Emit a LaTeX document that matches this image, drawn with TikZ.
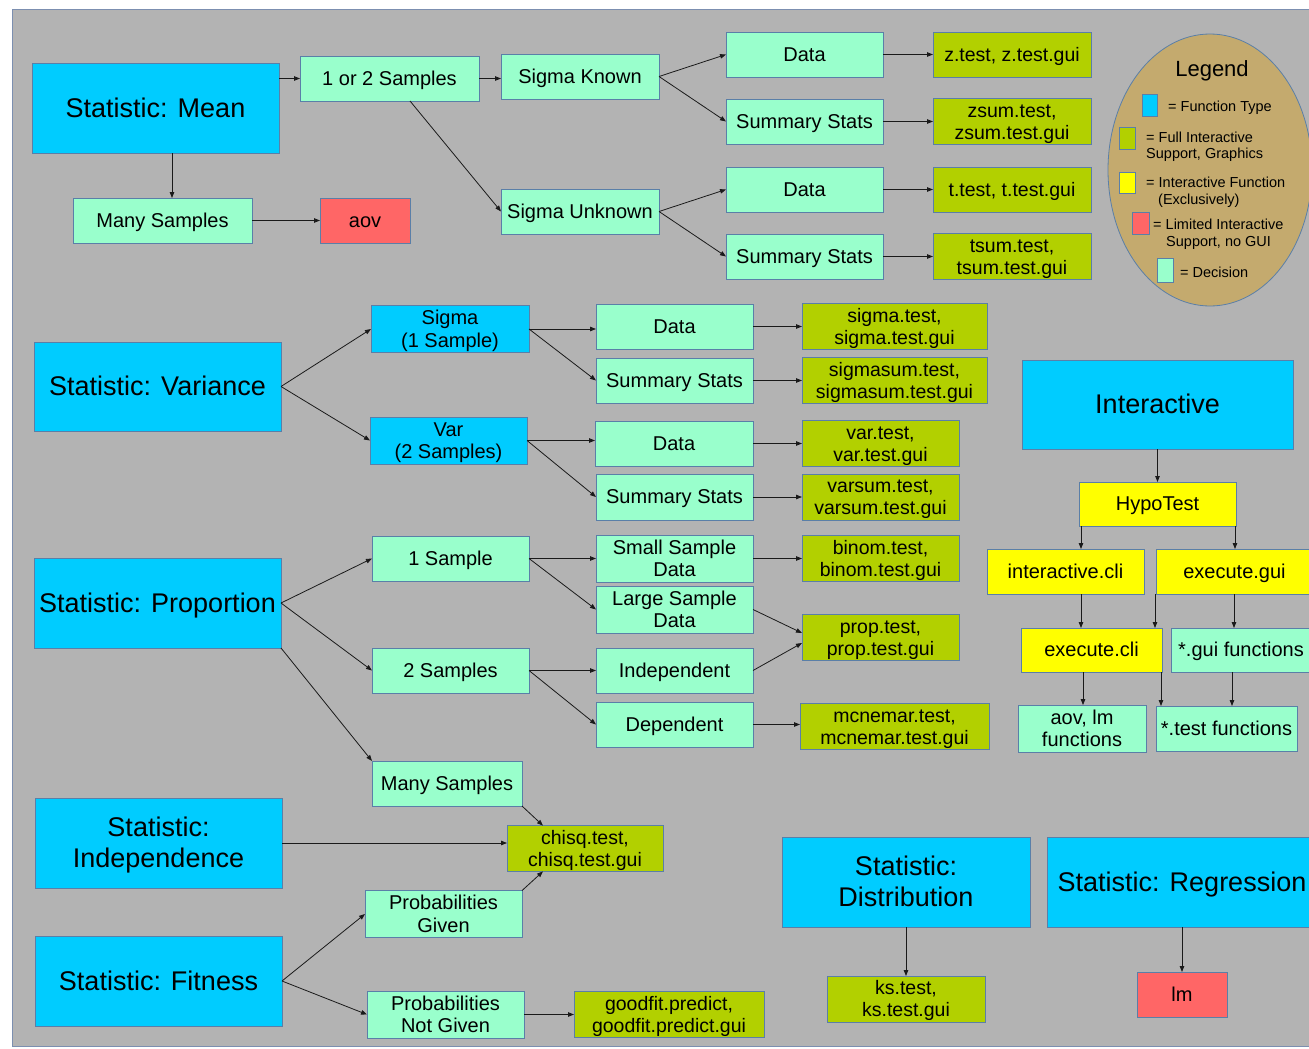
\documentclass[tikz,border=0pt]{standalone}
\usepackage{fontspec}
\setmainfont{Liberation Sans}
\usetikzlibrary{arrows.meta,shapes.geometric}
\definecolor{bgg}{HTML}{B3B3B3}
\definecolor{bgb}{HTML}{7C8FB0}
\definecolor{bdr}{HTML}{5A7FA8}
\definecolor{cblue}{HTML}{00CCFF}
\definecolor{cmint}{HTML}{99FFCC}
\definecolor{cgreen}{HTML}{B2D000}
\definecolor{cred}{HTML}{FF6666}
\definecolor{cyel}{HTML}{FFFF00}
\definecolor{ctan}{HTML}{C4AA6E}
\definecolor{carr}{HTML}{1A1A1A}
\tikzset{
 bx/.style={draw=bdr, line width=0.8pt, inner sep=1pt, outer sep=0pt, align=center, text=black},
 fblue/.style={bx, fill=cblue, font=\fontsize{27}{31}\selectfont},
 fblues/.style={bx, fill=cblue, font=\fontsize{20}{22.5}\selectfont},
 fmint/.style={bx, fill=cmint, font=\fontsize{20}{22.5}\selectfont},
 fgreen/.style={bx, fill=cgreen, font=\fontsize{19.5}{22}\selectfont},
 fred/.style={bx, fill=cred, font=\fontsize{20}{22}\selectfont},
 fyel/.style={bx, fill=cyel, font=\fontsize{20}{22}\selectfont},
 legsq/.style={draw=bdr, line width=0.8pt, inner sep=0pt, outer sep=0pt},
 legtx/.style={inner sep=0pt, anchor=west, align=left, text=black, font=\fontsize{14.5}{16.5}\selectfont},
 arr/.style={draw=carr, line width=0.8pt, -{Triangle[length=6pt,width=4.5pt]}},
}
% strut with the font's ascent and descent, so text is centred like the original
\newcommand\stt{\rule[-0.212em]{0pt}{1.117em}}
\newcommand\boxnode[7]{%
  \node[#1, minimum width={(#5)-(#3)}, minimum height={(#6)-(#4)}] (#2) at ({((#3)+(#5))/2},{((#4)+(#6))/2}) {\stt#7\stt};}
\begin{document}
\begin{tikzpicture}[x=1pt,y=-1pt]
\useasboundingbox (0,0) rectangle (1309,1049);
\clip (0,0) rectangle (1309,1049);
\fill[white] (0,0) rectangle (1309,1049);
\draw[bgb, fill=bgg, line width=0.8pt] (12,9) rectangle (1330,1046);

% legend
\node[ellipse, draw=bdr, line width=0.8pt, fill=ctan, minimum width=204pt, minimum height=272pt, inner sep=0pt] (legend) at (1210,170) {};
\node[inner sep=0pt, text=black, font=\fontsize{22}{24}\selectfont] (legt) at (1212,69) {\stt Legend\stt};
\node[legsq, fill=cblue, minimum width=15pt, minimum height=22pt] (sq1) at (1149.5,105) {};
\node[legtx] (lt1) at (1168,106) {\stt= Function Type\stt};
\node[legsq, fill=cgreen, minimum width=16pt, minimum height=22pt] (sq2) at (1127,138) {};
\node[legtx] (lt2) at (1146,145.5) {\stt= Full Interactive\\Support, Graphics\stt};
\node[legsq, fill=cyel, minimum width=16pt, minimum height=21pt] (sq3) at (1127,182.5) {};
\node[legtx] (lt3) at (1146,191) {\stt= Interactive Function\\\hspace*{12pt}(Exclusively)\stt};
\node[legsq, fill=cred, minimum width=17pt, minimum height=22pt] (sq4) at (1140.5,223) {};
\node[legtx] (lt4) at (1153,233) {\stt= Limited Interactive\\\hspace*{13pt}Support, no GUI\stt};
\node[legsq, fill=cmint, minimum width=16pt, minimum height=24pt] (sq5) at (1165,270) {};
\node[legtx] (lt5) at (1180,272) {\stt= Decision\stt};

% blue function-type boxes
\boxnode{fblue}{mean}{32}{63}{279}{153}{Statistic: Mean}
\boxnode{fblue}{var}{34}{342}{281}{431}{Statistic: Variance}
\boxnode{fblue}{prop}{34}{558}{281}{648}{Statistic: Proportion}
\boxnode{fblue}{indep}{35}{798}{282}{888}{Statistic:\\Independence}
\boxnode{fblue}{fit}{35}{936}{282}{1026}{Statistic: Fitness}
\boxnode{fblue}{dist}{782}{837}{1030}{927}{Statistic:\\Distribution}
\boxnode{fblue}{regr}{1047}{837}{1317}{927}{Statistic: Regression}
\boxnode{fblue}{inter}{1022}{360}{1293}{449}{Interactive}
\boxnode{fblues}{sigma}{371}{306}{529}{352}{Sigma\\(1 Sample)}
\boxnode{fblues}{varb}{370}{418}{527}{463}{Var\\(2 Samples)}

% decision boxes
\boxnode{fmint}{one2}{300}{56}{479}{101}{1 or 2 Samples}
\boxnode{fmint}{manyM}{73}{198}{252}{243}{Many Samples}
\boxnode{fmint}{sigK}{501}{54}{659}{99}{Sigma Known}
\boxnode{fmint}{sigU}{501}{189}{659}{234}{Sigma Unknown}
\boxnode{fmint}{dK}{726}{32}{883}{77}{Data}
\boxnode{fmint}{sK}{726}{99}{883}{144}{Summary Stats}
\boxnode{fmint}{dU}{726}{167}{883}{212}{Data}
\boxnode{fmint}{sU}{726}{234}{883}{279}{Summary Stats}
\boxnode{fmint}{dS}{596}{304}{753}{349}{Data}
\boxnode{fmint}{sS}{596}{358}{753}{403}{Summary Stats}
\boxnode{fmint}{dV}{595}{421}{753}{466}{Data}
\boxnode{fmint}{sV}{596}{474}{753}{520}{Summary Stats}
\boxnode{fmint}{one}{372}{536}{529}{581}{1 Sample}
\boxnode{fmint}{small}{596}{536}{753}{581}{Small Sample\\Data}
\boxnode{fmint}{large}{596}{587}{753}{632}{Large Sample\\Data}
\boxnode{fmint}{two}{372}{648}{529}{693}{2 Samples}
\boxnode{fmint}{indepb}{596}{648}{753}{693}{Independent}
\boxnode{fmint}{dep}{596}{702}{753}{747}{Dependent}
\boxnode{fmint}{manyP}{372}{761}{522}{806}{Many Samples}
\boxnode{fmint}{probG}{365}{892}{522}{936}{Probabilities\\Given}
\boxnode{fmint}{probN}{367}{992}{524}{1037}{Probabilities\\Not Given}
\boxnode{fmint}{guif}{1171}{628}{1311}{672}{*.gui functions}
\boxnode{fmint}{aovlm}{1018}{706}{1146}{751}{aov, lm\\functions}
\boxnode{fmint}{testf}{1156}{706}{1297}{751}{*.test functions}

% full interactive support
\boxnode{fgreen}{zt}{933}{32}{1091}{77}{z.test, z.test.gui}
\boxnode{fgreen}{zs}{933}{99}{1091}{144}{zsum.test,\\zsum.test.gui}
\boxnode{fgreen}{tt}{933}{167}{1091}{212}{t.test, t.test.gui}
\boxnode{fgreen}{ts}{933}{234}{1091}{279}{tsum.test,\\tsum.test.gui}
\boxnode{fgreen}{sgt}{802}{304}{987}{349}{sigma.test,\\sigma.test.gui}
\boxnode{fgreen}{sgs}{802}{358}{987}{403}{sigmasum.test,\\sigmasum.test.gui}
\boxnode{fgreen}{vt}{802}{421}{959}{466}{var.test,\\var.test.gui}
\boxnode{fgreen}{vs}{802}{474}{959}{520}{varsum.test,\\varsum.test.gui}
\boxnode{fgreen}{bt}{802}{536}{959}{581}{binom.test,\\binom.test.gui}
\boxnode{fgreen}{ptt}{802}{615}{959}{660}{prop.test,\\prop.test.gui}
\boxnode{fgreen}{mt}{800}{704}{989}{749}{mcnemar.test,\\mcnemar.test.gui}
\boxnode{fgreen}{ct}{507}{826}{663}{871}{chisq.test,\\chisq.test.gui}
\boxnode{fgreen}{gp}{574}{992}{764}{1037}{goodfit.predict,\\goodfit.predict.gui}
\boxnode{fgreen}{kt}{827}{976}{985}{1022}{ks.test,\\ks.test.gui}

% limited support
\boxnode{fred}{aov}{320}{198}{410}{243}{aov}
\boxnode{fred}{lm}{1137}{972}{1227}{1017}{lm}

% interactive functions
\boxnode{fyel}{hypo}{1079}{482}{1236}{526}{HypoTest}
\boxnode{fyel}{icli}{987}{549}{1144}{594}{interactive.cli}
\boxnode{fyel}{egui}{1156}{549}{1313}{594}{execute.gui}
\boxnode{fyel}{ecli}{1021}{628}{1162}{672}{execute.cli}

% helper x positions
\coordinate (x172) at (172,0);
\coordinate (x410) at (410,0);
\coordinate (x543) at (543,0);
\coordinate (x1081) at (1081,0);
\coordinate (x1083) at (1083,0);
\coordinate (x1155) at (1155,0);
\coordinate (x1161) at (1161,0);
\coordinate (x1232) at (1232,0);
\coordinate (x1234) at (1234,0);
\coordinate (x1235) at (1235,0);

% connectors: mean
\draw[arr] (mean.east |- one2.west) -- (one2.west);
\draw[arr] (mean.south -| x172) -- (manyM.north -| x172);
\draw[arr] (manyM.east) -- (aov.west);
\draw[arr] (one2.east) -- (one2.east -| sigK.west);
\draw[arr] (one2.south -| x410) -- (sigU.west);
\draw[arr] (sigK.east) -- (dK.west);
\draw[arr] (sigK.east) -- (sK.west);
\draw[arr] (sigU.east) -- (dU.west);
\draw[arr] (sigU.east) -- (sU.west);
\draw[arr] (dK.east) -- (zt.west);
\draw[arr] (sK.east) -- (zs.west);
\draw[arr] (dU.east) -- (tt.west);
\draw[arr] (sU.east) -- (ts.west);

% variance
\draw[arr] (var.east) -- (sigma.west);
\draw[arr] (var.east) -- (varb.west);
\draw[arr] (sigma.east) -- (sigma.east -| dS.west);
\draw[arr] (sigma.east) -- (sS.west);
\draw[arr] (varb.east) -- (varb.east -| dV.west);
\draw[arr] (varb.east) -- (sV.west);
\draw[arr] (dS.east) -- (sgt.west);
\draw[arr] (sS.east) -- (sgs.west);
\draw[arr] (dV.east) -- (vt.west);
\draw[arr] (sV.east) -- (vs.west);

% proportion
\draw[arr] (prop.east) -- (one.west);
\draw[arr] (prop.east) -- (two.west);
\draw[arr] (prop.south east) -- (manyP.north west);
\draw[arr] (one.east) -- (small.west);
\draw[arr] (one.east) -- (large.west);
\draw[arr] (small.east) -- (bt.west);
\draw[arr] (large.east) -- ([yshift=4.5pt]ptt.west);
\draw[arr] (indepb.east) -- ([yshift=-5.5pt]ptt.west);
\draw[arr] (two.east) -- (indepb.west);
\draw[arr] (two.east) -- (dep.west);
\draw[arr] (dep.east) -- (dep.east -| mt.west);

% independence / fitness
\draw[arr] (manyP.south east) -- (ct.north -| x543);
\draw[arr] (indep.east) -- (indep.east -| ct.west);
\draw[arr] (probG.north east) -- (ct.south -| x543);
\draw[arr] (fit.east) -- (probG.west);
\draw[arr] (fit.east) -- (probN.west);
\draw[arr] (probN.east) -- (gp.west);

% distribution / regression
\draw[arr] (dist.south) -- (kt.north);
\draw[arr] (regr.south -| lm.north) -- (lm.north);

% interactive
\draw[arr] (inter.south) -- (hypo.north);
\draw[arr] (hypo.south -| x1081) -- (icli.north -| x1081);
\draw[arr] (hypo.south -| x1235) -- (egui.north -| x1235);
\draw[arr] (icli.south -| x1081) -- (ecli.north -| x1081);
\draw[arr] (egui.south -| x1155) -- (ecli.north -| x1155);
\draw[arr] (egui.south -| x1234) -- (guif.north -| x1234);
\draw[arr] (ecli.south -| x1083) -- (aovlm.north -| x1083);
\draw[arr] (ecli.south -| x1161) -- (testf.north -| x1161);
\draw[arr] (guif.south -| x1232) -- (testf.north -| x1232);
\end{tikzpicture}
\end{document}
